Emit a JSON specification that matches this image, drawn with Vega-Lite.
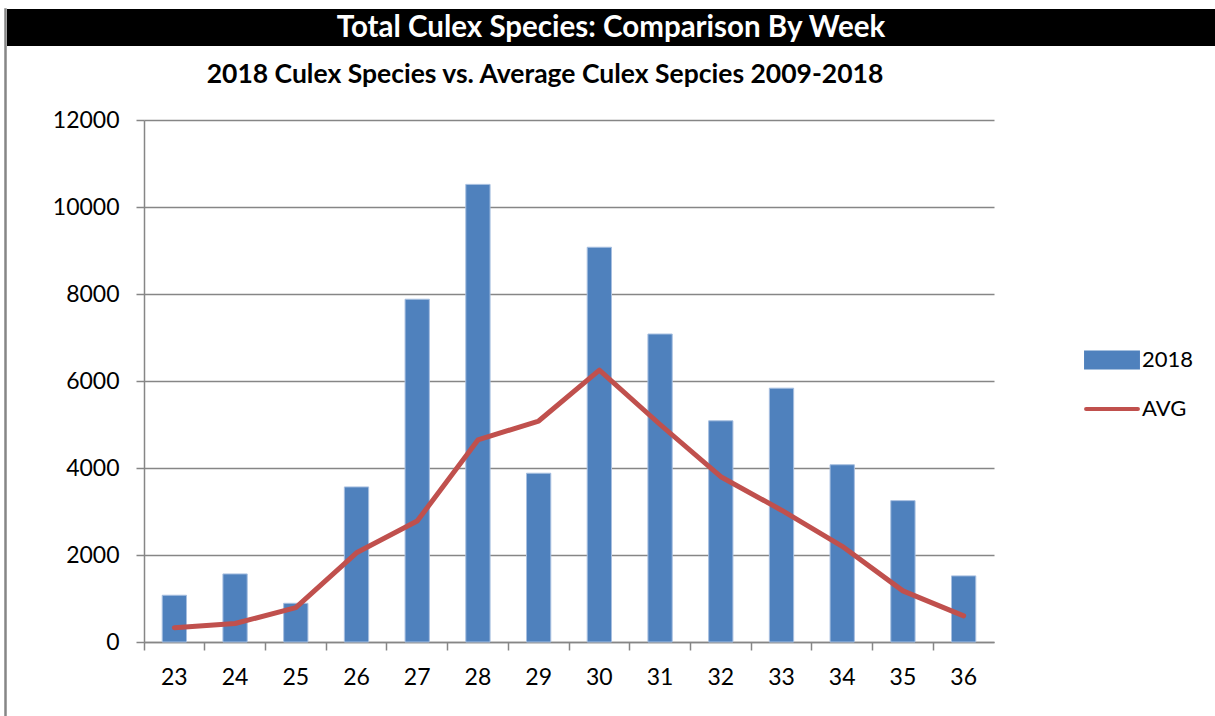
{
  "$schema": "https://vega.github.io/schema/vega-lite/v6.json",
  "padding": {"left": 4, "top": 8, "right": 0, "bottom": 0},
  "background": "white",
  "config": {"font": "Lato", "view": {"stroke": null}},
  "datasets": {
    "banner": [{"text": "Total Culex Species: Comparison By Week"}],
    "weekly": [
      {"week": 23, "series": "2018", "count": 1075},
      {"week": 24, "series": "2018", "count": 1565},
      {"week": 25, "series": "2018", "count": 890},
      {"week": 26, "series": "2018", "count": 3565},
      {"week": 27, "series": "2018", "count": 7880},
      {"week": 28, "series": "2018", "count": 10520},
      {"week": 29, "series": "2018", "count": 3880},
      {"week": 30, "series": "2018", "count": 9075},
      {"week": 31, "series": "2018", "count": 7080},
      {"week": 32, "series": "2018", "count": 5085},
      {"week": 33, "series": "2018", "count": 5835},
      {"week": 34, "series": "2018", "count": 4075},
      {"week": 35, "series": "2018", "count": 3250},
      {"week": 36, "series": "2018", "count": 1520},
      {"week": 23, "series": "AVG", "count": 330},
      {"week": 24, "series": "AVG", "count": 425},
      {"week": 25, "series": "AVG", "count": 790},
      {"week": 26, "series": "AVG", "count": 2050},
      {"week": 27, "series": "AVG", "count": 2780},
      {"week": 28, "series": "AVG", "count": 4645},
      {"week": 29, "series": "AVG", "count": 5080},
      {"week": 30, "series": "AVG", "count": 6250},
      {"week": 31, "series": "AVG", "count": 5000},
      {"week": 32, "series": "AVG", "count": 3800},
      {"week": 33, "series": "AVG", "count": 3030},
      {"week": 34, "series": "AVG", "count": 2200},
      {"week": 35, "series": "AVG", "count": 1175},
      {"week": 36, "series": "AVG", "count": 600}
    ]
  },
  "spacing": 0,
  "hconcat": [
    {
      "width": 1,
      "height": 708,
      "view": {"stroke": "#868686", "strokeWidth": 1.5, "fill": null},
      "data": {"values": []},
      "mark": "point"
    },
    {
      "spacing": 15,
      "vconcat": [
        {
          "width": 1208,
          "height": 37,
          "view": {"fill": "black", "stroke": null},
          "data": {"name": "banner"},
          "mark": {"type": "text", "color": "white", "fontSize": 29.5, "fontWeight": "bold", "font": "Lato", "align": "center", "baseline": "middle"},
          "encoding": {"text": {"field": "text", "type": "nominal"}}
        },
        {
          "spacing": 0,
          "hconcat": [
            {
              "width": 45,
              "height": 10,
              "data": {"values": []},
              "mark": "point"
            },
            {
              "width": 850,
              "height": 522,
              "title": {
                "text": "2018 Culex Species vs. Average Culex Sepcies 2009-2018",
                "fontSize": 26.5, "fontWeight": "bold", "font": "Lato", "color": "black",
                "anchor": "middle", "frame": "group", "offset": 21, "dx": -24
              },
              "data": {"name": "weekly"},
              "encoding": {
                "x": {
                  "field": "week", "type": "ordinal",
                  "scale": {"paddingInner": 0.6, "paddingOuter": 0.3},
                  "axis": {
                    "title": null, "labelAngle": 0, "labelFontSize": 23, "labelFont": "Lato", "labelColor": "black",
                    "domainColor": "#868686", "domainWidth": 1.5, "tickColor": "#868686", "tickWidth": 1.5,
                    "tickSize": 8, "bandPosition": -0.75, "labelPadding": 16
                  }
                },
                "y": {
                  "field": "count", "type": "quantitative",
                  "scale": {"domain": [0, 12000], "nice": false},
                  "axis": {
                    "title": null, "values": [0, 2000, 4000, 6000, 8000, 10000, 12000], "format": "d",
                    "grid": true, "gridColor": "#868686", "gridWidth": 1.5,
                    "domainColor": "#868686", "domainWidth": 1.5, "tickColor": "#868686", "tickWidth": 1.5,
                    "tickSize": 8, "labelPadding": 17, "labelFontSize": 23, "labelFont": "Lato", "labelColor": "black"
                  }
                },
                "color": {
                  "field": "series", "type": "nominal",
                  "scale": {"domain": ["2018", "AVG"], "range": ["#4F81BD", "#C0504D"]},
                  "legend": {
                    "title": null, "orient": "none", "legendX": 1090, "legendY": 334,
                    "symbolSize": 900, "labelFontSize": 22, "labelFont": "Lato", "labelColor": "black",
                    "rowPadding": 16, "labelOffset": 13,
                    "encode": {
                      "symbols": {
                        "update": {
                          "shape": {"signal": "datum.value === 'AVG' ? 'M-1.73,0H1.73' : 'M-1.73,-0.5H1.73V0.5H-1.73Z'"},
                          "fill": {"signal": "datum.value === 'AVG' ? 'transparent' : '#4F81BD'"},
                          "stroke": {"signal": "datum.value === 'AVG' ? '#C0504D' : 'transparent'"},
                          "strokeWidth": {"value": 4},
                          "strokeCap": {"value": "round"},
                          "opacity": {"value": 1}
                        }
                      }
                    }
                  }
                }
              },
              "layer": [
                {
                  "transform": [{"filter": "datum.series === '2018'"}],
                  "mark": {"type": "bar", "stroke": "#A7BFE0", "strokeWidth": 1, "opacity": 1}
                },
                {
                  "transform": [{"filter": "datum.series === 'AVG'"}],
                  "mark": {"type": "line", "strokeWidth": 5, "strokeCap": "round", "strokeJoin": "round"}
                }
              ]
            }
          ]
        }
      ]
    }
  ]
}
